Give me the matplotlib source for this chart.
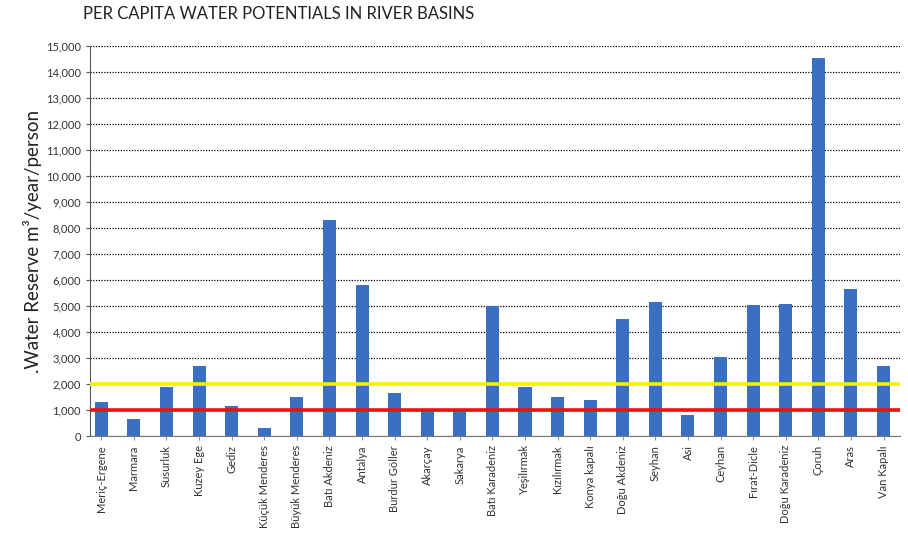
import matplotlib

matplotlib.use("Agg")
import matplotlib.pyplot as plt
import numpy as np

basins = [
    "Meriç-Ergene", "Marmara", "Susurluk", "Kuzey Ege", "Gediz",
    "Küçük Menderes", "Büyük Menderes", "Batı Akdeniz", "Antalya",
    "Burdur Göller", "Akarçay", "Sakarya", "Batı Karadeniz", "Yeşilırmak",
    "Kızılırmak", "Konya kapalı", "Doğu Akdeniz", "Seyhan", "Asi", "Ceyhan",
    "Fırat-Dicle", "Doğu Karadeniz", "Çoruh", "Aras", "Van Kapalı",
]
reserve = [
    1300, 650, 1900, 2700, 1150,
    300, 1500, 8300, 5800,
    1650, 950, 950, 5000, 1900,
    1500, 1400, 4500, 5150, 800, 3050,
    5050, 5100, 14550, 5650, 2700,
]
scarcity_line = 1000
stress_line = 2000
yticks = np.arange(0, 15001, 1000)

plt.rcParams["font.family"] = ["Lato", "DejaVu Sans"]

fig = plt.figure(figsize=(9.08, 5.5), dpi=100, facecolor="white")
ax = fig.add_axes([0.099, 0.207, 0.892, 0.709])

x = np.arange(len(basins))
ax.bar(x, reserve, width=0.4, color="#3b6fc2", zorder=3)

ax.axhline(stress_line, color="#f5f200", lw=2.6, zorder=4)
ax.axhline(scarcity_line, color="#ee1111", lw=2.6, zorder=4)

ax.set_ylim(0, 15000)
ax.set_xlim(-0.35, len(basins) - 0.5)
ax.set_yticks(yticks)
ax.set_yticklabels([f"{v:,}" for v in yticks], fontsize=8, color="#333333")
ax.set_xticks(x)
ax.set_xticklabels(basins, rotation=90, fontsize=8, color="#333333")
ax.tick_params(axis="y", length=3, color="#555555")
ax.tick_params(axis="x", length=3, color="#999999")

ax.grid(axis="y", color="black", ls=(0, (1, 1.2)), lw=0.9, zorder=1)
for s in ["top", "right"]:
    ax.spines[s].set_visible(False)
ax.spines["left"].set_color("#555555")
ax.spines["bottom"].set_color("#777777")

ax.set_ylabel(".Water Reserve m³/year/person", fontsize=13.5, color="#222222", labelpad=3)

fig.text(83 / 908, 1 - 14 / 550, "PER CAPITA WATER POTENTIALS IN RIVER BASINS",
         fontsize=12, color="#222222", va="center", ha="left")

fig.savefig("out.png", dpi=100, facecolor="white")
